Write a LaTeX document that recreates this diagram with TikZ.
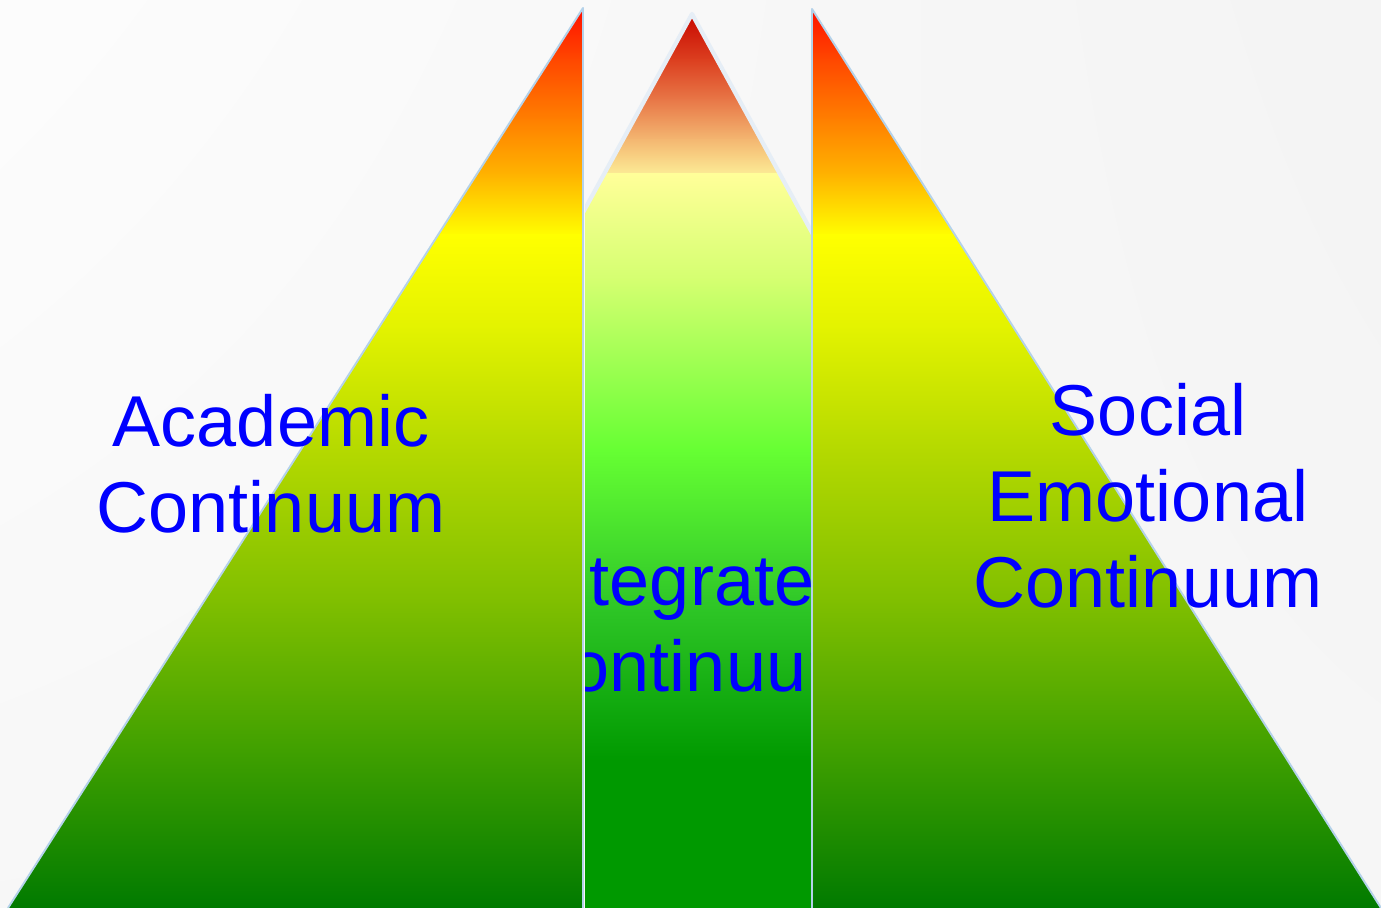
\documentclass[tikz,border=0pt]{standalone}
\usepackage{fontspec}
\setmainfont{Liberation Sans}
\definecolor{labelblue}{HTML}{0000FF}
\definecolor{edgeblue}{HTML}{B4D2EA}
\definecolor{ridgewhite}{HTML}{E6EEF6}
% side pyramids, top to bottom
\definecolor{sideA}{HTML}{FF1000}
\definecolor{sideB}{HTML}{FF4800}
\definecolor{sideC}{HTML}{FF8000}
\definecolor{sideD}{HTML}{FFB400}
\definecolor{sideE}{HTML}{FFFF00}
\definecolor{sideF}{HTML}{E2F200}
\definecolor{sideG}{HTML}{B4D900}
\definecolor{sideH}{HTML}{80BF00}
\definecolor{sideI}{HTML}{40A000}
\definecolor{sideJ}{HTML}{007A00}
% middle pyramid, top to bottom
\definecolor{midA}{HTML}{C80800}
\definecolor{midB}{HTML}{DC4020}
\definecolor{midC}{HTML}{E87848}
\definecolor{midD}{HTML}{F4B872}
\definecolor{midE}{HTML}{FCEC96}
\definecolor{midF}{HTML}{FFFF99}
\definecolor{midG}{HTML}{D4FF70}
\definecolor{midH}{HTML}{66FF33}
\definecolor{midI}{HTML}{30C828}
\definecolor{midJ}{HTML}{009900}
\usepackage{tikz}
\usetikzlibrary{shadings}
\tikzset{
  continuum/.style={text=labelblue,font=\fontsize{41}{49}\selectfont,align=center,inner sep=0pt},
  sideedge/.style={draw=edgeblue,line width=1.1pt,line join=round},
}

\begin{document}
\begin{tikzpicture}[x=0.02cm,y=-0.02cm]
  \shade[upper left=gray!2,upper right=gray!9,lower left=gray!6,lower right=gray!7] (0,0) rectangle (1381,908);
  \useasboundingbox (0,0) rectangle (1381,908);
  % corner points
  \coordinate (acBase) at (8,908);
  \coordinate (acTip) at (583,8);
  \coordinate (acFoot) at (583,908);
  \coordinate (seFoot) at (812,908);
  \coordinate (seTip) at (812,9);
  \coordinate (seBase) at (1381,908);
  \coordinate (inTip) at (692,14);
  \coordinate (inLeft) at (201,908);
  \coordinate (inRight) at (1183,908);

  % integrated strip
  \begin{scope}
    \clip (585,0) rectangle (811,908);
    \begin{scope}
      \clip (inTip) -- (inRight) -- (inLeft) -- cycle;
      \foreach \ya/\ca/\yb/\cb in {14/midA/60/midB,60/midB/100/midC,100/midC/140/midD,
          140/midD/174/midE,174/midF/280/midG,280/midG/450/midH,450/midH/600/midI,
          600/midI/760/midJ,760/midJ/908/midJ}
        \shade[top color=\ca,bottom color=\cb] (500,\ya) rectangle (900,\yb+1);
    \end{scope}
    \draw[ridgewhite,line width=2.4pt,line join=round] (inLeft) -- (inTip) -- (inRight);
    \node[continuum] (integrated) at (692,623) {Integrated\\Continuum};
  \end{scope}

  % academic and social emotional halves
  \foreach \pa/\pb/\pc in {acBase/acTip/acFoot,seBase/seTip/seFoot} {
    \begin{scope}
      \clip (\pa) -- (\pb) -- (\pc) -- cycle;
      \foreach \ya/\ca/\yb/\cb in {8/sideA/60/sideB,60/sideB/120/sideC,120/sideC/175/sideD,
          175/sideD/235/sideE,235/sideE/330/sideF,330/sideF/450/sideG,450/sideG/600/sideH,
          600/sideH/750/sideI,750/sideI/908/sideJ}
        \shade[top color=\ca,bottom color=\cb] (0,\ya) rectangle (1381,\yb+1);
    \end{scope}
    \draw[sideedge] (\pa) -- (\pb) -- (\pc);
  }

  \node[continuum] (academic) at (271,464) {Academic\\Continuum};
  \node[continuum] (social) at (1148,496) {Social\\Emotional\\Continuum};
\end{tikzpicture}
\end{document}
